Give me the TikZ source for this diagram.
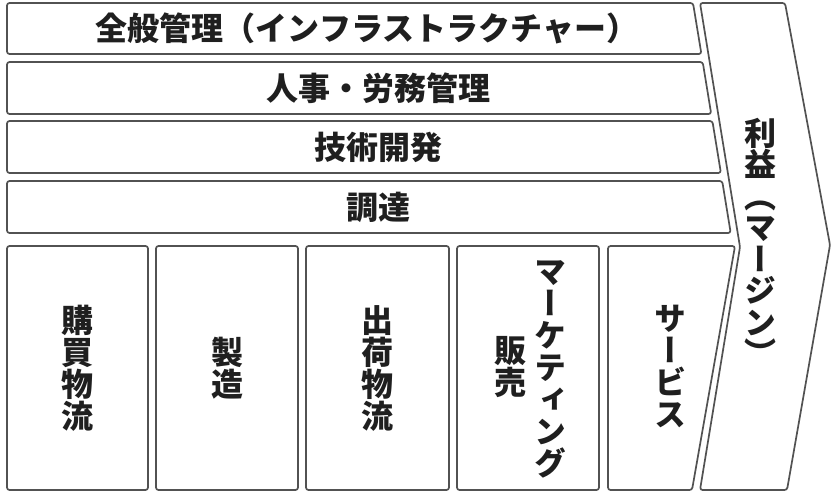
\documentclass[tikz,border=0pt]{standalone}
\usepackage{fontspec}
\newfontfamily\jp{Noto Sans CJK JP}
\newfontfamily\jpv[RawFeature=+vert]{Noto Sans CJK JP}
\tikzset{
  box/.style={draw=black!68, line width=1.7pt, rounded corners=2.5pt, line join=round},
  htxt/.style={font=\jp\bfseries\fontsize{32}{32}\selectfont, inner sep=0pt, text=black!88},
  vtxt/.style={font=\jpv\bfseries\fontsize{32}{32}\selectfont, inner sep=0pt, align=center, text=black!88},
}
\begin{document}
\begin{tikzpicture}[x=1pt,y=-1pt]
\useasboundingbox[fill=white] (0,0) rectangle (834,500);

% support activities
\draw[box] (7,3) -- (693,3) -- (701.4,54) -- (7,54) -- cycle;
\draw[box] (7,62) -- (702.7,62) -- (711.2,114) -- (7,114) -- cycle;
\draw[box] (7,121) -- (712.4,121) -- (720.9,173) -- (7,173) -- cycle;
\draw[box] (7,181) -- (722.2,181) -- (730.7,233) -- (7,233) -- cycle;

% primary activities
\draw[box] (7,246) rectangle (148,490);
\draw[box] (156,246) rectangle (298,490);
\draw[box] (306,246) rectangle (449,490);
\draw[box] (457,246) rectangle (599,490);
\draw[box] (608,246) -- (735,246) -- (692,490) -- (608,490) -- cycle;

% margin arrow
\draw[box] (700,3) -- (785,3) -- (830,245) -- (787,490) -- (700,490) -- (740,247) -- cycle;

% texts
\node[htxt] (s1) at (367,28.5) {全般管理（インフラストラクチャー）};
\node[htxt] (s2) at (378,88) {人事・労務管理};
\node[htxt] (s3) at (378,147) {技術開発};
\node[htxt] (s4) at (378,207) {調達};

\node[vtxt] (p1) at (77.5,368) {購\\買\\物\\流};
\node[vtxt] (p2) at (227,368) {製\\造};
\node[vtxt] (p3) at (377.5,368) {出\\荷\\物\\流};
\node[vtxt] (p4a) at (550,369) {マ\\ー\\ケ\\テ\\ィ\\ン\\グ};
\node[vtxt] (p4b) at (510,367) {販\\売};
\node[vtxt] (p5) at (670,366) {サ\\ー\\ビ\\ス};
\node[vtxt, font=\jpv\bfseries\fontsize{32}{31.5}\selectfont] (m) at (760,242) {利\\益\\︵\\マ\\ー\\ジ\\ン\\︶};
\end{tikzpicture}
\end{document}
